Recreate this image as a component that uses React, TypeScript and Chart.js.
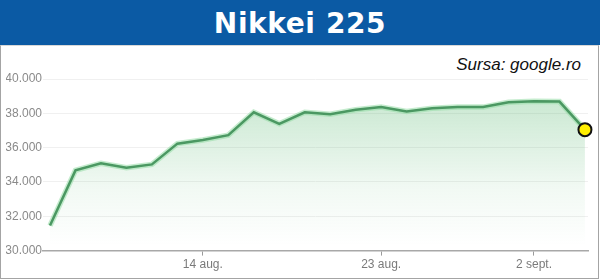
import React, { useEffect, useRef } from "react";
import { Chart, registerables } from "chart.js";

Chart.register(...registerables);

const FONT = "'Liberation Sans', Arial, Helvetica, sans-serif";

const dates: string[] = [
  "5 aug.", "6 aug.", "7 aug.", "8 aug.", "9 aug.", "13 aug.", "14 aug.", "15 aug.",
  "16 aug.", "19 aug.", "20 aug.", "21 aug.", "22 aug.", "23 aug.", "26 aug.", "27 aug.",
  "28 aug.", "29 aug.", "30 aug.", "2 sept.", "3 sept.", "4 sept.",
];
const closes: number[] = [
  31458, 34675, 35090, 34831, 35025, 36233, 36442, 36727, 38063, 37389, 38063,
  37952, 38211, 38364, 38110, 38289, 38372, 38363, 38648, 38701, 38686, 37048,
];
const tickIndices: number[] = [6, 13, 19];
const tickLabels: string[] = ["14 aug.", "23 aug.", "2 sept."];
const yTicks: number[] = [30000, 32000, 34000, 36000, 38000, 40000];

export default function App() {
  const canvasRef = useRef<HTMLCanvasElement | null>(null);

  useEffect(() => {
    document.body.style.margin = "0";
    const canvas = canvasRef.current;
    if (!canvas) return;
    const points = closes.map((v, i) => ({ x: i, y: v }));
    const last = closes.length - 1;

    const chart = new Chart(canvas, {
      type: "line",
      data: {
        labels: dates,
        datasets: [
          {
            label: "Nikkei 225",
            data: points,
            borderColor: "#4b9862",
            borderWidth: 2.5,
            fill: false,
            tension: 0,
            clip: false as any,
            pointRadius: (ctx: any) => (ctx.dataIndex === last ? 6.5 : 0),
            pointBackgroundColor: "#fff000",
            pointBorderColor: "#111",
            pointBorderWidth: 2,
            order: 0,
          },
          {
            label: "glow",
            data: points,
            borderColor: "rgba(150,220,165,0.55)",
            borderWidth: 5.5,
            tension: 0,
            pointRadius: 0,
            fill: "start",
            backgroundColor: (ctx: any) => {
              const ch = ctx.chart;
              const ca = ch.chartArea;
              if (!ca) return "transparent";
              const g = ch.ctx.createLinearGradient(0, 100, 0, ca.bottom - 5);
              g.addColorStop(0, "rgba(80,180,105,0.30)");
              g.addColorStop(0.6, "rgba(80,180,105,0.08)");
              g.addColorStop(1, "rgba(80,180,105,0)");
              return g;
            },
            order: 1,
          },
        ],
      },
      options: {
        responsive: false,
        animation: false,
        layout: { padding: { left: 6, right: 12, top: 79, bottom: 5 } },
        plugins: {
          legend: { display: false },
          tooltip: { enabled: false },
        },
        scales: {
          x: {
            type: "linear",
            min: -0.275,
            max: 21.12,
            afterBuildTicks: (s: any) => {
              s.ticks = tickIndices.map((v) => ({ value: v }));
            },
            ticks: {
              autoSkip: false,
              maxRotation: 0,
              color: "#7a7a7a",
              padding: 2,
              font: { family: FONT, size: 12 },
              callback: (v: any) => {
                const k = tickIndices.indexOf(Number(v));
                return k >= 0 ? tickLabels[k] : "";
              },
            },
            grid: {
              drawOnChartArea: false,
              drawTicks: true,
              tickLength: 5,
              color: "#9a9a9a",
            },
            border: { color: "#a8a8a8", width: 1.5 },
          },
          y: {
            min: 30000,
            max: 40000,
            afterBuildTicks: (s: any) => {
              s.ticks = yTicks.map((v) => ({ value: v }));
            },
            afterFit: (s: any) => {
              s.width = 37;
            },
            ticks: {
              color: "#8a8a8a",
              padding: 1,
              font: { family: FONT, size: 12 },
              callback: (v: any) => `${Math.round(Number(v) / 1000)}.000`,
            },
            grid: {
              drawTicks: false,
              color: (ctx: any) =>
                ctx.tick && ctx.tick.value === 30000 ? "rgba(0,0,0,0)" : "#f0f0f0",
            },
            border: { display: false },
          },
        },
      },
    });
    return () => chart.destroy();
  }, []);

  return (
    <div
      style={{
        position: "absolute",
        left: 0,
        top: 0,
        width: 600,
        height: 279,
        background: "#fff",
        overflow: "hidden",
        fontFamily: FONT,
      }}
    >
      <div
        style={{
          position: "absolute",
          left: 0,
          top: 45,
          width: 597,
          height: 232,
          border: "1px solid #a4a4a4",
          borderTop: "1px solid #d8d8d8",
        }}
      />
      <div
        style={{
          position: "absolute",
          left: 0,
          top: 0,
          width: 600,
          height: 45,
          background: "#0b5aa4",
        }}
      />
      <div
        style={{
          position: "absolute",
          left: 0,
          top: 4,
          width: 600,
          textAlign: "center",
          color: "#fff",
          fontFamily: "'DejaVu Sans', 'Liberation Sans', Arial, sans-serif",
          fontWeight: "bold",
          fontSize: 28,
          letterSpacing: "0.6px",
          lineHeight: "40px",
        }}
      >
        Nikkei 225
      </div>
      <div
        style={{
          position: "absolute",
          right: 19,
          top: 56,
          fontStyle: "italic",
          fontSize: 17,
          lineHeight: "17px",
          color: "#111",
        }}
      >
        Sursa: google.ro
      </div>
      <canvas
        ref={canvasRef}
        width={600}
        height={279}
        style={{ position: "absolute", left: 0, top: 0, width: 600, height: 279 }}
      />
    </div>
  );
}
